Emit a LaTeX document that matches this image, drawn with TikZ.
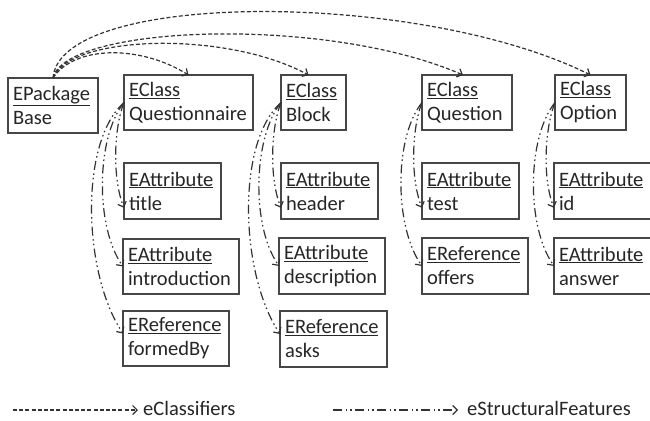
\documentclass[tikz,border=0pt]{standalone}
\usepackage{fontspec}
\setmainfont{Carlito}
\usetikzlibrary{arrows.meta,calc}
\begin{document}
\begin{tikzpicture}[x=1pt,y=-1pt,
  box/.style={draw=black!72, line width=1.3pt, inner xsep=5pt, inner ysep=0pt, outer sep=0pt, align=left, anchor=north west, text=black!85, font=\fontsize{20.5}{24}\selectfont},
  cls/.style={draw=black!80, line width=1.2pt, dash pattern=on 4pt off 2.2pt, -{Straight Barb[length=4.5pt,width=9pt]}},
  feat/.style={draw=black!80, line width=1.2pt, dash pattern=on 9pt off 3.5pt on 1.5pt off 3pt on 1.5pt off 3.5pt, -{Straight Barb[length=4.5pt,width=9pt]}},
  lbl/.style={anchor=west, inner sep=0pt, text=black!85, font=\fontsize{20.5}{24}\selectfont}]
\fill[white] (0,0) rectangle (650,420);
\useasboundingbox (0,0) rectangle (650,420);
% boxes
\node[box, text width=80pt,  minimum height=55pt] (pkg) at (8,78)   {\underline{EPackage}\\Base};
\node[box, text width=119pt, minimum height=55pt] (qn)  at (124,75) {\underline{EClass}\\Questionnaire};
\node[box, text width=55pt,  minimum height=55pt] (bl)  at (281,75) {\underline{EClass}\\Block};
\node[box, text width=80pt,  minimum height=55pt] (qs)  at (422,75) {\underline{EClass}\\Question};
\node[box, text width=61pt,  minimum height=55pt] (op)  at (555,75) {\underline{EClass}\\Option};
\node[box, text width=87pt,  minimum height=56pt] (ti)  at (124,163) {\underline{EAttribute}\\title};
\node[box, text width=106pt, minimum height=55pt] (in)  at (123,239) {\underline{EAttribute}\\introduction};
\node[box, text width=96pt,  minimum height=55pt] (fb)  at (123,311) {\underline{EReference}\\formedBy};
\node[box, text width=87pt,  minimum height=56pt] (he)  at (281,163) {\underline{EAttribute}\\header};
\node[box, text width=96pt,  minimum height=56pt] (de)  at (279,238) {\underline{EAttribute}\\description};
\node[box, text width=97pt,  minimum height=56pt] (as)  at (280,311) {\underline{EReference}\\asks};
\node[box, text width=87pt,  minimum height=56pt] (te)  at (422,163) {\underline{EAttribute}\\test};
\node[box, text width=96pt,  minimum height=56pt] (of)  at (422,238) {\underline{EReference}\\offers};
\node[box, text width=87pt,  minimum height=56pt] (id)  at (554,163) {\underline{EAttribute}\\id};
\node[box, text width=87pt,  minimum height=56pt] (an)  at (554,238) {\underline{EAttribute}\\answer};
% eClassifiers
\draw[cls] (pkg.north) .. controls +(22,-33) and +(-48,-30) .. (qn.north);
\draw[cls] (pkg.north) .. controls +(17,-43) and +(-83,-45) .. ($(bl.north)+(-5,0)$);
\draw[cls] (pkg.north) .. controls +(12,-53) and +(-137,-60) .. ($(qs.north)+(-4,0)$);
\draw[cls] (pkg.north) .. controls +(7,-88) and +(-170,-85) .. (op.north);
% eStructuralFeatures
\draw[feat] (qn.west) .. controls +(-10,25) and +(-12,-30) .. ($(ti.west)!0.6!(ti.south west)$);
\draw[feat] (qn.west) .. controls +(-28,35) and +(-28,-40) .. (in.west);
\draw[feat] (qn.west) .. controls +(-45,40) and +(-40,-60) .. ($(fb.west)+(0,-5)$);
\draw[feat] (bl.west) .. controls +(-10,25) and +(-12,-30) .. ($(he.west)!0.6!(he.south west)$);
\draw[feat] (bl.west) .. controls +(-28,35) and +(-28,-40) .. (de.west);
\draw[feat] (bl.west) .. controls +(-45,40) and +(-40,-60) .. ($(as.west)+(0,-5)$);
\draw[feat] (qs.west) .. controls +(-10,25) and +(-12,-30) .. ($(te.west)!0.6!(te.south west)$);
\draw[feat] (qs.west) .. controls +(-28,35) and +(-28,-40) .. (of.west);
\draw[feat] (op.west) .. controls +(-10,25) and +(-12,-30) .. ($(id.west)!0.6!(id.south west)$);
\draw[feat] (op.west) .. controls +(-28,35) and +(-28,-40) .. (an.west);
% legend
\node[lbl] (l1) at (143,408) {eClassifiers};
\node[lbl] (l2) at (467,408) {eStructuralFeatures};
\coordinate (l1a) at (13,410);
\coordinate (l2a) at (333,410);
\draw[cls, shorten >=5pt] (l1a) -- (l1a -| l1.west);
\draw[feat, shorten >=9pt] (l2a) -- (l2a -| l2.west);
\end{tikzpicture}
\end{document}
